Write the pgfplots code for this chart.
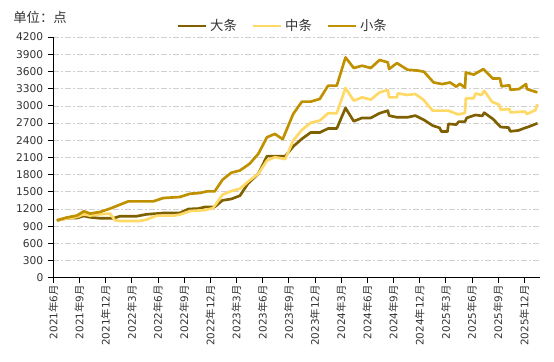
\documentclass[border=0pt]{standalone}
\usepackage{fontspec}
\setmainfont{DejaVu Sans}
\newfontfamily\cjk{Noto Sans CJK SC}
\usepackage{pgfplots}
\pgfplotsset{compat=1.18}
\usepackage{pgfplotstable}
\definecolor{cBig}{HTML}{7F6000}
\definecolor{cMid}{HTML}{FFD966}
\definecolor{cSmall}{HTML}{BF9000}
\definecolor{cGrid}{HTML}{D0D0D0}
\definecolor{cText}{HTML}{333333}
\newcommand{\ym}[2]{#1{\cjk 年}#2{\cjk 月}}

\pgfplotstableread{
m v
0.4 1000
1.5 1038
2.7 1043
3.5 1078
4.2 1055
5.35 1038
6.9 1038
7.6 1072
9.5 1072
10.7 1107
11.8 1119
12.6 1130
14.5 1130
15.5 1200
16.6 1206
17.4 1235
18.5 1235
19.4 1351
20.4 1374
21.4 1432
22.3 1640
23.5 1814
24.5 2122
25.4 2122
26.6 2122
27.5 2290
28.5 2424
29.5 2534
30.55 2534
31.5 2604
32.5 2604
33.5 2962
34.45 2731
35.4 2789
36.4 2789
37.4 2870
38.35 2916
38.5 2829
39.4 2800
40.6 2800
41.5 2829
42.5 2754
43.5 2655
44.3 2615
44.5 2551
45.2 2551
45.3 2685
46.2 2673
46.5 2725
47.2 2725
47.4 2790
48.4 2840
49.2 2825
49.4 2880
50.4 2771
51.3 2630
52.2 2620
52.4 2555
53.3 2570
53.9 2604
54.5 2635
55.5 2695
}\bigdata

\pgfplotstableread{
m v
0.4 1000
1.5 1032
2.7 1061
3.5 1107
4.2 1084
5.35 1107
6.5 1119
7.07 1003
7.6 991
9.9 991
10.7 1015
11.85 1084
13.8 1084
14.5 1101
15.7 1165
17.2 1177
18.3 1212
19.4 1449
20.4 1513
21.4 1554
22.4 1687
23.5 1814
24.5 2046
25.4 2104
26.6 2070
27.5 2395
28.5 2580
29.5 2702
30.55 2743
31.5 2870
32.5 2870
33.5 3310
34.45 3090
35.4 3148
36.4 3108
37.4 3235
38.35 3276
38.5 3148
39.4 3148
39.5 3218
40.6 3190
41.5 3206
42.4 3110
43.5 2916
45.3 2916
46.4 2850
47.2 2875
47.3 3131
48.2 3131
48.4 3215
49.1 3190
49.4 3264
50.3 3070
51.1 3020
51.3 2930
52.3 2945
52.4 2885
54.1 2900
54.3 2855
55.3 2930
55.5 3030
}\middata

\pgfplotstableread{
m v
0.4 1000
1.5 1050
2.7 1085
3.5 1160
4.2 1120
5.35 1148
6.5 1206
7.45 1264
8.6 1333
11.46 1333
12.6 1391
14.5 1409
15.7 1467
16.8 1478
17.6 1507
18.5 1507
19.4 1710
20.4 1832
21.4 1872
22.5 1988
23.5 2162
24.5 2452
25.4 2510
26.3 2418
27.5 2858
28.5 3073
29.5 3073
30.55 3120
31.5 3352
32.5 3352
33.5 3845
34.45 3660
35.4 3700
36.4 3660
37.4 3800
38.35 3760
38.5 3642
39.4 3746
40.6 3630
41.8 3615
42.5 3595
43.6 3408
44.6 3380
45.5 3408
46.2 3334
46.6 3385
47.2 3318
47.3 3582
48.2 3545
49.3 3641
50.4 3475
51.2 3480
51.4 3340
52.3 3360
52.4 3280
53.4 3293
54.2 3380
54.3 3293
55.5 3235
}\smalldata

\begin{document}
\begin{tikzpicture}
\useasboundingbox (-40pt,-62.5pt) rectangle (375.5pt,208.3pt);
\begin{axis}[
  at={(0,0)}, anchor=south west,
  scale only axis, width=365pt, height=180.5pt,
  xmin=0, xmax=55.8, ymin=0, ymax=4200,
  axis x line=bottom, axis y line=left,
  axis line style={-, black, line width=0.6pt},
  xtick={0,3,...,54},
  xticklabels={\ym{2021}{6},\ym{2021}{9},\ym{2021}{12},\ym{2022}{3},\ym{2022}{6},\ym{2022}{9},\ym{2022}{12},\ym{2023}{3},\ym{2023}{6},\ym{2023}{9},\ym{2023}{12},\ym{2024}{3},\ym{2024}{6},\ym{2024}{9},\ym{2024}{12},\ym{2025}{3},\ym{2025}{6},\ym{2025}{9},\ym{2025}{12}},
  xticklabel style={rotate=90, anchor=east, font=\fontsize{7.8}{9}\selectfont, text=cText, inner sep=1.5pt},
  ytick={0,300,...,4200},
  yticklabel style={font=\fontsize{8}{9}\selectfont, text=cText},
  /pgf/number format/assume math mode=true,
  /pgf/number format/1000 sep={},
  scaled y ticks=false,
  tick align=outside, major tick length=4pt,
  tick style={black, line width=0.6pt},
  ymajorgrids, xmajorgrids=false,
  major grid style={cGrid, line width=0.5pt, dash pattern=on 4pt off 2pt on 1pt off 2pt},
  legend columns=3,
  legend style={at={(0.472,1.046)}, anchor=center, draw=none, fill=none,
    font=\cjk\fontsize{10}{12}\selectfont, text=cText,
    /tikz/every even column/.append style={column sep=9pt},
    inner sep=0pt},
  legend image code/.code={\draw[#1, line width=2.2pt] (0pt,0pt) -- (21pt,0pt);},
  every axis plot/.append style={line width=2pt, line join=round},
  clip=false,
]
\addplot[cBig, mark=none] table[x=m,y=v] {\bigdata};
\addplot[cMid, mark=none] table[x=m,y=v] {\middata};
\addplot[cSmall, mark=none] table[x=m,y=v] {\smalldata};
\legend{大条,中条,小条}
\end{axis}
\node[anchor=west, inner sep=0pt, text=cText, font=\cjk\fontsize{10}{12}\selectfont] at (-30.2pt,195.5pt) {单位：点};
\end{tikzpicture}
\end{document}
